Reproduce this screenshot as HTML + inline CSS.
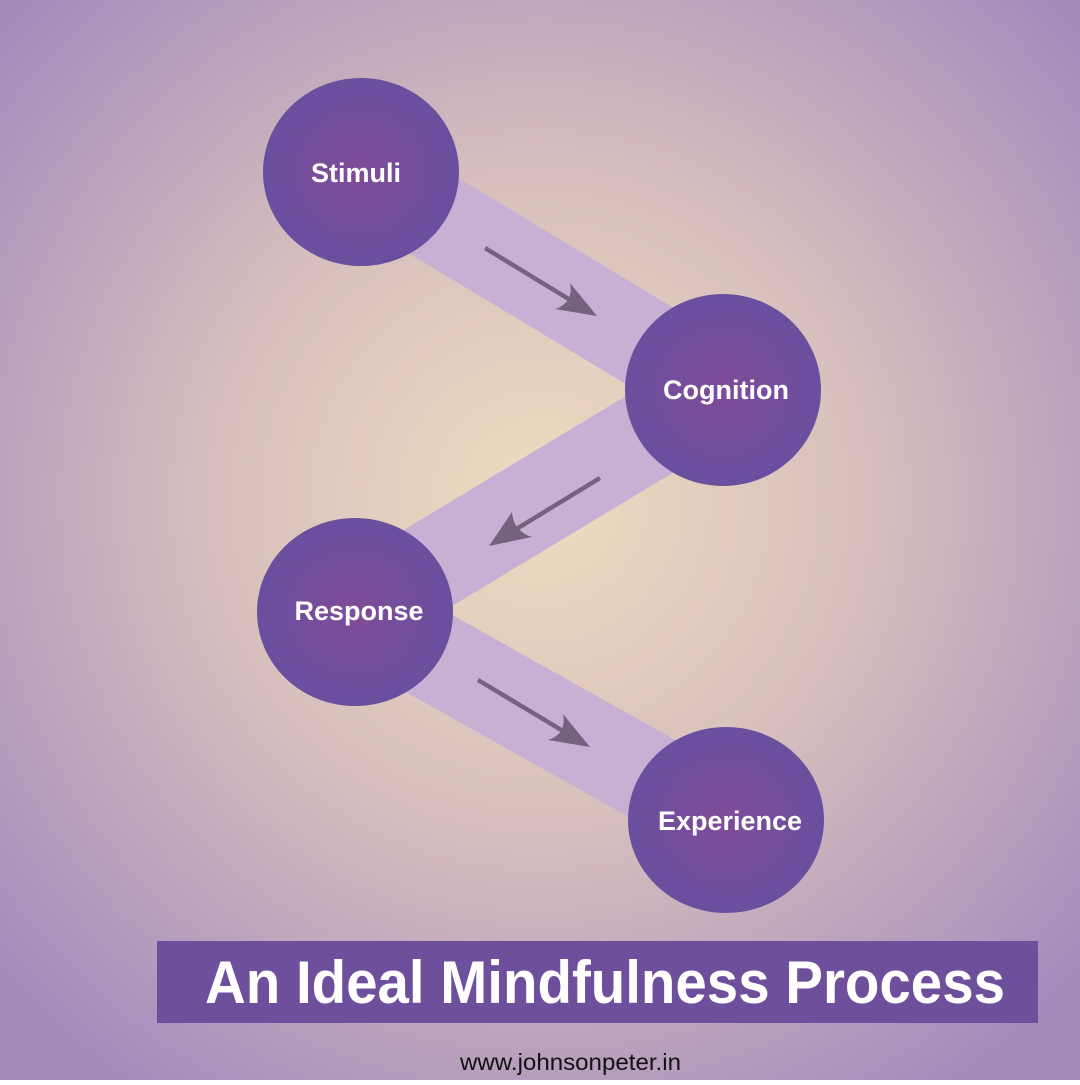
<!DOCTYPE html>
<html><head><meta charset="utf-8"><style>html,body{margin:0;padding:0}body{width:1080px;height:1080px;overflow:hidden}</style></head>
<body>
<svg width="1080" height="1080" viewBox="0 0 1080 1080" xmlns="http://www.w3.org/2000/svg" font-family="Liberation Sans, sans-serif">
<defs>
<radialGradient id="bg" cx="540" cy="500" r="720" gradientUnits="userSpaceOnUse">
<stop offset="0" stop-color="#efdcbf"/>
<stop offset="0.45" stop-color="#d8bfbd"/>
<stop offset="1" stop-color="#a48abd"/>
</radialGradient>
<radialGradient id="cg">
<stop offset="0" stop-color="#7f4c98"/>
<stop offset="1" stop-color="#6a4f9f"/>
</radialGradient>
</defs>
<rect width="1080" height="1080" fill="url(#bg)"/>
<g stroke="#c8b0d4" stroke-width="90" fill="none">
<line x1="361" y1="172" x2="723" y2="390"/>
<line x1="723" y1="390" x2="355" y2="612"/>
<line x1="355" y1="612" x2="726" y2="820"/>
</g>
<g fill="url(#cg)">
<ellipse cx="361" cy="172" rx="98" ry="94"/>
<ellipse cx="723" cy="390" rx="98" ry="96"/>
<ellipse cx="355" cy="612" rx="98" ry="94"/>
<ellipse cx="726" cy="820" rx="98" ry="93"/>
</g>
<g stroke="#75627f" stroke-width="4.5" fill="none">
<line x1="485" y1="248" x2="585" y2="309"/>
<line x1="600" y1="478" x2="500" y2="539"/>
<line x1="478" y1="680" x2="578" y2="740"/>
</g>
<g fill="#75627f">
<path d="M597,316 L555,309 Q574,303 570,283 Z"/>
<path d="M489,546 L512,512 Q513,531 532,537 Z"/>
<path d="M590,747 L548,740 Q567,734 563,714 Z"/>
</g>
<g fill="#fff" font-size="27" text-anchor="middle" font-weight="bold">
<text x="356" y="182">Stimuli</text>
<text x="726" y="399">Cognition</text>
<text x="359" y="620">Response</text>
<text x="730" y="830">Experience</text>
</g>
<rect x="157" y="941" width="881" height="82" fill="#6d4f9c"/>
<text x="205" y="1003" font-size="60" font-weight="bold" fill="#fff" textLength="800" lengthAdjust="spacingAndGlyphs">An Ideal Mindfulness Process</text>
<text x="460" y="1070" font-size="23" fill="#111" textLength="221" lengthAdjust="spacingAndGlyphs">www.johnsonpeter.in</text>
</svg>
</body></html>
